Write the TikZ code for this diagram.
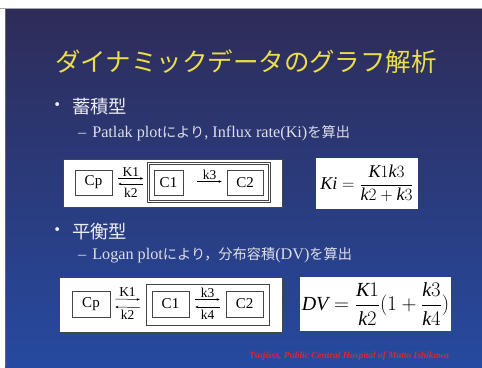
\documentclass[tikz,border=0pt]{standalone}
\usepackage{fontspec}
\setmainfont{Liberation Serif}
\newfontfamily\cjk{Noto Sans CJK JP}
\usetikzlibrary{arrows.meta}
\definecolor{bgtop}{RGB}{46,44,88}
\definecolor{bgbot}{RGB}{38,74,160}
\definecolor{titlecol}{RGB}{236,222,70}
\definecolor{bodycol}{RGB}{236,236,244}
\definecolor{subcol}{RGB}{222,222,232}
\definecolor{footcol}{RGB}{214,40,60}
\definecolor{boxline}{RGB}{70,70,70}
\newcommand\ti[1]{\mbox{\itshape #1}}
\newcommand\jp[1]{{\cjk\fontsize{14.2}{14.2}\selectfont #1}}
\begin{document}
\begin{tikzpicture}[x=1pt,y=-1pt,
  panel/.style={draw=boxline, line width=0.7pt, fill=white, inner sep=0pt},
  comp/.style={draw=boxline, line width=0.6pt, fill=white, inner sep=0pt,
    font=\fontsize{15}{15}\selectfont},
  rate/.style={font=\fontsize{13.5}{13.5}\selectfont, inner sep=0pt},
  arr/.style={line width=0.5pt, -{Stealth[length=3pt,width=2.6pt]}},
  ttl/.style={text=titlecol, font=\cjk\fontsize{25.5}{25.5}\selectfont, inner sep=0pt},
  bul/.style={text=bodycol, font=\cjk\fontsize{18.3}{18.3}\selectfont, inner sep=0pt},
  sub/.style={text=subcol, font=\fontsize{16.2}{16.2}\selectfont, inner sep=0pt},
  fml/.style={font=\fontsize{18}{21}\selectfont, inner sep=0pt}
]
\useasboundingbox (0,0) rectangle (482,367);
\fill[white] (0,0) rectangle (482,367);
\draw[black!35, line width=0.6pt] (0,8.3) -- (482,8.3);
\shade[top color=bgtop, bottom color=bgbot] (5,9) rectangle (482,367);
\draw[black!60, line width=0.6pt] (5,9) -- (5,367);

% title
\node[ttl] (title) at (246,62) {ダイナミックデータのグラフ解析};

% section 1
\node[bul] (dot1) at (58,107) {・};
\node[bul, anchor=west] (h1) at (72,107) {蓄積型};
\node[sub, anchor=west] (s1) at (78,133) {–\hspace{6pt}Patlak plot\jp{により}, Influx rate(Ki)\jp{を算出}};

% model 1
\node[panel, minimum width=219pt, minimum height=48pt] (panA) at (172.5,183) {};
\node[comp, minimum width=37pt, minimum height=25pt] (cpA) at (93.5,182.5) {Cp};
\node[draw=boxline, line width=0.5pt, double, double distance=1.6pt, minimum width=121pt, minimum height=38pt, inner sep=0pt] (encA) at (209,182.5) {};
\node[comp, minimum width=29pt, minimum height=25pt] (c1A) at (168.5,182.5) {C1};
\node[comp, minimum width=36pt, minimum height=25pt] (c2A) at (245,182.5) {C2};
\draw[arr] ([xshift=6pt,yshift=4pt]cpA.east) -- coordinate[midway] (k1A) ([xshift=-5pt,yshift=4pt]encA.west);
\draw[arr] ([xshift=-5pt,yshift=-1.5pt]encA.west) -- coordinate[midway] (k2A) ([xshift=6pt,yshift=-1.5pt]cpA.east);
\node[rate, anchor=base] (lk1A) at ([yshift=2.5pt]k1A) {K1};
\node[rate, anchor=north] (lk2A) at ([yshift=-4pt]k2A) {k2};
\draw[arr] ([xshift=14pt,yshift=1pt]c1A.east) -- coordinate[midway] (k3A) ([xshift=-5pt,yshift=1pt]c2A.west);
\node[rate, anchor=base] (lk3A) at ([yshift=2.5pt]k3A) {k3};

\node[panel, draw=none, minimum width=102pt, minimum height=51pt] (fA) at (367,183.5) {};
\node[fml] (eqA) at (fA) {$\ti{Ki} = \displaystyle\frac{\ti{K}1\ti{k}3}{\ti{k}2+\ti{k}3}$};

% section 2
\node[bul] (dot2) at (58,232) {・};
\node[bul, anchor=west] (h2) at (72,232) {平衡型};
\node[sub, anchor=west] (s2) at (78,255) {–\hspace{6pt}Logan plot\jp{により，分布容積}(DV)\jp{を算出}};

% model 2
\node[panel, minimum width=223pt, minimum height=55pt] (panB) at (170.5,304.5) {};
\node[comp, minimum width=38pt, minimum height=26pt] (cpB) at (91,304) {Cp};
\node[draw=boxline, line width=0.6pt, minimum width=123pt, minimum height=41pt, inner sep=0pt] (encB) at (207.5,304.5) {};
\node[comp, minimum width=37pt, minimum height=26pt] (c1B) at (170.5,304) {C1};
\node[comp, minimum width=37pt, minimum height=26pt] (c2B) at (244.5,304) {C2};
\draw[arr] ([xshift=5pt,yshift=5pt]cpB.east) -- coordinate[midway] (k1B) ([xshift=-6pt,yshift=5pt]encB.west);
\draw[arr] ([xshift=-6pt,yshift=-3pt]encB.west) -- coordinate[midway] (k2B) ([xshift=5pt,yshift=-3pt]cpB.east);
\node[rate, anchor=base] (lk1B) at ([yshift=2.5pt]k1B) {K1};
\node[rate, anchor=north] (lk2B) at ([yshift=-3pt]k2B) {k2};
\draw[arr] ([xshift=6pt,yshift=4.5pt]c1B.east) -- coordinate[midway] (k3B) ([xshift=-6pt,yshift=4.5pt]c2B.west);
\draw[arr] ([xshift=-6pt,yshift=-3pt]c2B.west) -- coordinate[midway] (k4B) ([xshift=6pt,yshift=-3pt]c1B.east);
\node[rate, anchor=base] (lk3B) at ([yshift=2.5pt]k3B) {k3};
\node[rate, anchor=north] (lk4B) at ([yshift=-3pt]k4B) {k4};

\node[panel, draw=none, minimum width=151pt, minimum height=54pt] (fB) at (375.5,304) {};
\node[fml, font=\fontsize{20}{23}\selectfont] (eqB) at (fB) {$\ti{DV} = \displaystyle\frac{\ti{K}1}{\ti{k}2}(1+\frac{\ti{k}3}{\ti{k}4})$};

% footer
\node[text=footcol, font=\fontsize{9.4}{9.4}\selectfont\bfseries\itshape, anchor=west, inner sep=0pt] (foot) at (249,356) {Tsujisss, Public Central Hospital of Matto Ishikawa};
\end{tikzpicture}
\end{document}
